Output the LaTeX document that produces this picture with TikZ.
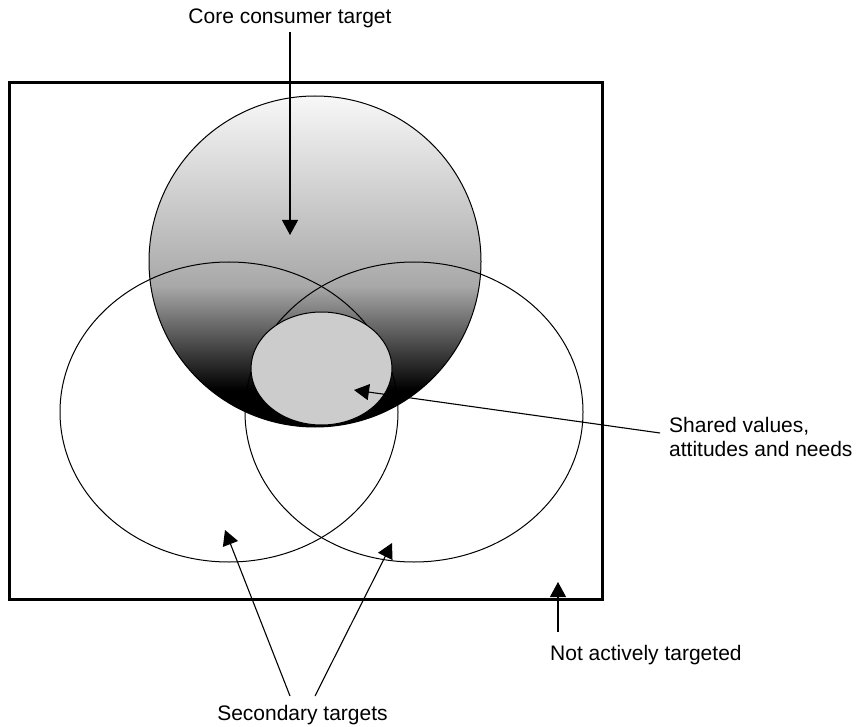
\documentclass[tikz,border=0pt]{standalone}
\usepackage{fontspec}
\setmainfont{Liberation Sans}
\usetikzlibrary{arrows.meta,shapes.geometric}
\pgfdeclareverticalshading{coreshade}{100bp}{color(0bp)=(black); color(30.6bp)=(black); color(46.3bp)=(black!34); color(75bp)=(black!3); color(100bp)=(black!3)}
\tikzset{mktarrow/.style={-{Triangle[width=16pt,length=15pt]}, line width=1.1pt},
  segment/.style={draw, ellipse, line width=1pt, inner sep=0pt},
  lbl/.style={inner sep=0pt, font=\fontsize{21}{24}\selectfont}}

\begin{document}
\begin{tikzpicture}[x=1pt, y=-1pt]
\useasboundingbox (0,0) rectangle (856,727);
\draw[line width=3pt] (9,83) rectangle (602,599);
% target groups
\node[segment, shading=coreshade, minimum width=332pt, minimum height=331pt] (core) at (315,261.5) {};
\node[segment, minimum width=338pt, minimum height=300pt] (secl) at (229,412) {};
\node[segment, minimum width=338pt, minimum height=300pt] (secr) at (414,412) {};
\node[segment, fill=black!20, minimum width=141pt, minimum height=113pt] (shared) at (321.5,368.5) {};
% labels
\node[lbl, anchor=base] (corelbl) at (290,24) {Core consumer target};
\node[lbl, anchor=north west, align=left] (sharedlbl) at (669,417) {Shared values,\\attitudes and needs};
\node[lbl, anchor=base west] (notlbl) at (550,660) {Not actively targeted};
\node[lbl, anchor=base] (seclbl) at (302.5,720) {Secondary targets};
\coordinate (coretip) at (290,235);
\coordinate (sharedtail) at (660,433);
\coordinate (sharedtip) at (354,390);
\coordinate (nottail) at (558,632);
\coordinate (nottip) at (558,582);
\coordinate (secltail) at (290,696);
\coordinate (secltip) at (225,530);
\coordinate (secrtail) at (315,696);
\coordinate (secrtip) at (392,543);
\draw[mktarrow, shorten <=3pt] (corelbl.south) -- (coretip);
\draw[mktarrow] (sharedtail) -- (sharedtip);
\draw[mktarrow] (nottail) -- (nottip);
\draw[mktarrow] (secltail) -- (secltip);
\draw[mktarrow] (secrtail) -- (secrtip);
\end{tikzpicture}
\end{document}
